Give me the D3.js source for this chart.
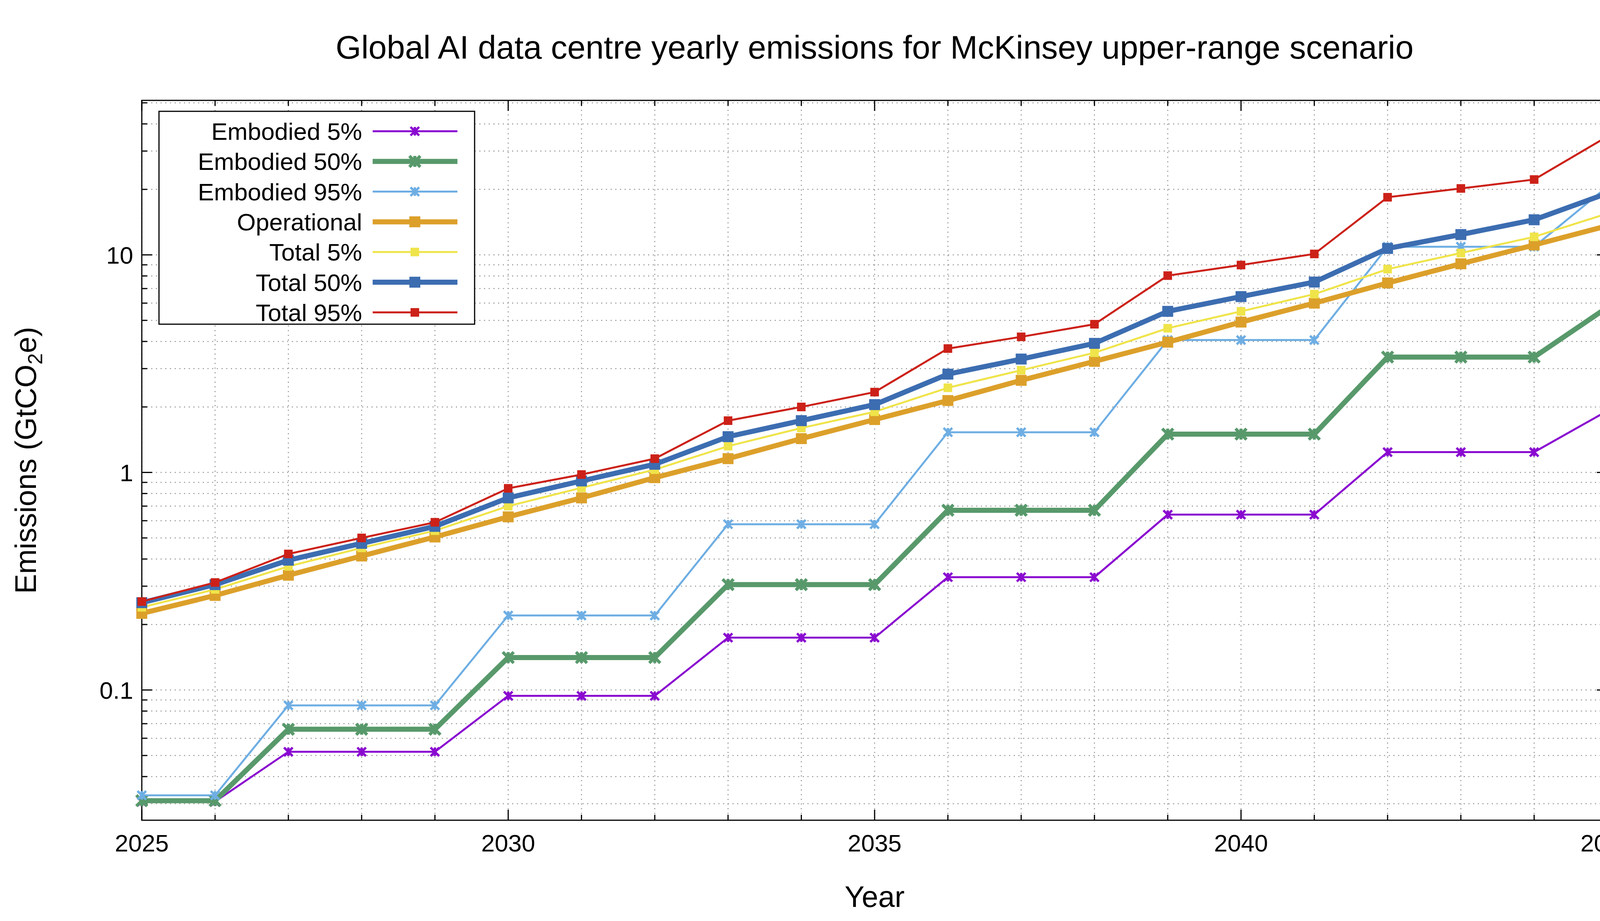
<!DOCTYPE html>
<html><head><meta charset="utf-8">
<script src="https://cdn.jsdelivr.net/npm/d3@7"></script>
<style>html,body{margin:0;padding:0;background:#fff;overflow:hidden;width:4250px;height:2358px}svg{display:block;font-family:"Liberation Sans",Arial,sans-serif}</style>
</head><body>
<script>
const years = d3.range(2025, 2046);
const embodied5  = [0.0307,0.0307,0.052,0.052,0.052,0.094,0.094,0.094,0.174,0.174,0.174,0.33,0.33,0.33,0.64,0.64,0.64,1.24,1.24,1.24,1.92];
const embodied50 = [0.031,0.031,0.066,0.066,0.066,0.141,0.141,0.141,0.305,0.305,0.305,0.67,0.67,0.67,1.5,1.5,1.5,3.39,3.39,3.39,5.74];
const embodied95 = [0.0328,0.0328,0.085,0.085,0.085,0.22,0.22,0.22,0.578,0.578,0.578,1.53,1.53,1.53,4.06,4.06,4.06,10.9,10.9,10.9,20.6];
const operational= [0.225,0.272,0.337,0.413,0.505,0.625,0.764,0.946,1.157,1.43,1.75,2.14,2.65,3.24,3.97,4.91,6.0,7.43,9.1,11.1,13.6];
const total5     = [0.24,0.29,0.37,0.45,0.54,0.70,0.85,1.03,1.32,1.6,1.9,2.45,2.95,3.55,4.6,5.5,6.6,8.6,10.2,12.1,15.5];
const total50    = [0.252,0.305,0.395,0.472,0.565,0.764,0.914,1.09,1.46,1.73,2.05,2.83,3.32,3.92,5.5,6.43,7.5,10.7,12.4,14.5,19.2];
const total95    = [0.255,0.312,0.422,0.5,0.59,0.845,0.978,1.157,1.73,2.0,2.34,3.71,4.2,4.8,8.03,8.98,10.1,18.4,20.2,22.2,35];
const seriesNames = ["Embodied 5%","Embodied 50%","Embodied 95%","Operational","Total 5%","Total 50%","Total 95%"];
const xTicks = [2025,2030,2035,2040,2045];
const yTicks = [0.1,1,10];

const series = [
 {name:seriesNames[0],v:embodied5,c:"#8a0ad0",w:5,m:"x"},
 {name:seriesNames[1],v:embodied50,c:"#58996b",w:13,m:"x"},
 {name:seriesNames[2],v:embodied95,c:"#6eaee3",w:5,m:"x"},
 {name:seriesNames[3],v:operational,c:"#dca02a",w:13,m:"s"},
 {name:seriesNames[4],v:total5,c:"#efe44a",w:5,m:"s"},
 {name:seriesNames[5],v:total50,c:"#3c6db1",w:13,m:"s"},
 {name:seriesNames[6],v:total95,c:"#cc2118",w:5,m:"s"}
];

const W=4250,H=2358, L=363,R=4115,T=257,B=2100;
const svg=d3.select("body").append("svg").attr("width",W).attr("height",H).attr("viewBox",`0 0 ${W} ${H}`);
const x=d3.scaleLinear().domain([2025,2045]).range([L,R]);
const y=d3.scaleLog().domain([0.0252,51.3]).range([B,T]);

const minorY=[];
[0.01,0.1,1,10].forEach(d=>{for(let k=1;k<10;k++){const v=d*k;if(v>=0.0252&&v<=51.3)minorY.push(v);}});
const g=svg.append("g");
g.selectAll(".gy").data(minorY).enter().append("line").attr("x1",L).attr("x2",R)
 .attr("y1",d=>y(d)).attr("y2",d=>y(d)).attr("stroke","#999").attr("stroke-width",2.5).attr("stroke-dasharray","3,9");
g.selectAll(".gx").data(years).enter().append("line").attr("y1",T).attr("y2",B)
 .attr("x1",d=>x(d)).attr("x2",d=>x(d)).attr("stroke","#999").attr("stroke-width",2.5).attr("stroke-dasharray","3,9");

const ax=svg.append("g");
ax.append("rect").attr("x",L).attr("y",T).attr("width",R-L).attr("height",B-T).attr("fill","none").attr("stroke","#000").attr("stroke-width",3);
years.forEach(d=>{const big=xTicks.includes(d);const l=big?27:14;
 ax.append("line").attr("x1",x(d)).attr("x2",x(d)).attr("y1",B).attr("y2",B-l).attr("stroke","#000").attr("stroke-width",3);
 ax.append("line").attr("x1",x(d)).attr("x2",x(d)).attr("y1",T).attr("y2",T+l).attr("stroke","#000").attr("stroke-width",3);});
minorY.forEach(d=>{const big=Math.abs(Math.log10(d)-Math.round(Math.log10(d)))<1e-9;const l=big?27:14;
 ax.append("line").attr("y1",y(d)).attr("y2",y(d)).attr("x1",L).attr("x2",L+l).attr("stroke","#000").attr("stroke-width",3);
 ax.append("line").attr("y1",y(d)).attr("y2",y(d)).attr("x1",R).attr("x2",R-l).attr("stroke","#000").attr("stroke-width",3);});
xTicks.forEach(d=>ax.append("text").attr("x",x(d)).attr("y",B+80).attr("text-anchor","middle").attr("font-size",62).text(d));
yTicks.forEach(d=>ax.append("text").attr("x",L-22).attr("y",y(d)+22).attr("text-anchor","end").attr("font-size",62).text(d));
svg.append("text").attr("x",(L+R)/2).attr("y",2322).attr("text-anchor","middle").attr("font-size",76).text("Year");
const yl=svg.append("text").attr("transform",`translate(92,${(T+B)/2}) rotate(-90)`).attr("text-anchor","middle").attr("font-size",76);
yl.append("tspan").text("Emissions (GtCO");
yl.append("tspan").attr("font-size",52).attr("dy",16).text("2");
yl.append("tspan").attr("dy",-16).text("e)");
svg.append("text").attr("x",(L+R)/2).attr("y",150).attr("text-anchor","middle").attr("font-size",84).text("Global AI data centre yearly emissions for McKinsey upper-range scenario");

function marker(sel,m,c,sz,w){
 if(m==="s"){sel.append("rect").attr("x",-sz).attr("y",-sz).attr("width",2*sz).attr("height",2*sz).attr("fill",c);}
 else{sel.append("path").attr("d",`M${-sz},${-sz}L${sz},${sz}M${-sz},${sz}L${sz},${-sz}M0,${-sz}L0,${sz}`).attr("stroke",c).attr("stroke-width",w).attr("fill","none");}
}
const line=d3.line().x((d,i)=>x(years[i])).y(d=>y(d));
const plot=svg.append("g");
series.forEach(s=>{
 plot.append("path").attr("d",line(s.v)).attr("fill","none").attr("stroke",s.c).attr("stroke-width",s.w).attr("stroke-linejoin","round");
 const big=s.w>6;
 s.v.forEach((v,i)=>{const gg=plot.append("g").attr("transform",`translate(${x(years[i])},${y(v)})`);marker(gg,s.m,s.c,big?14:11,big?8:6);});
});

const lg=svg.append("g");
lg.append("rect").attr("x",407).attr("y",285).attr("width",808).attr("height",545).attr("fill","#fff").attr("stroke","#000").attr("stroke-width",3);
series.forEach((s,i)=>{const yy=336+i*77.3;
 lg.append("text").attr("x",927).attr("y",yy+22).attr("text-anchor","end").attr("font-size",62).text(s.name);
 lg.append("line").attr("x1",954).attr("x2",1171).attr("y1",yy).attr("y2",yy).attr("stroke",s.c).attr("stroke-width",s.w);
 const gg=lg.append("g").attr("transform",`translate(1062,${yy})`);marker(gg,s.m,s.c,s.w>6?14:11,s.w>6?8:6);
});
</script>
</body></html>
